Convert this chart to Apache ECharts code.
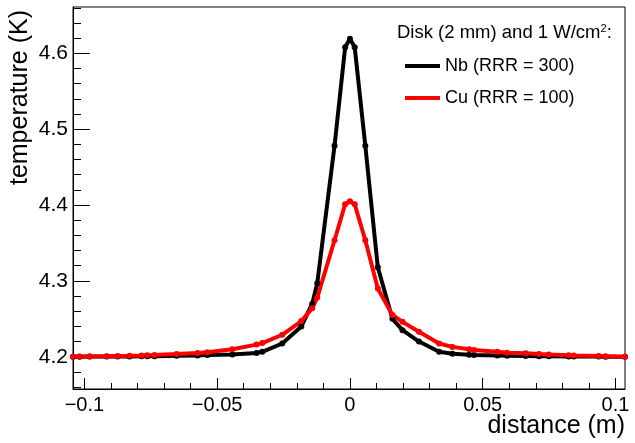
<!DOCTYPE html>
<html>
<head>
<meta charset="utf-8">
<script src="https://cdn.jsdelivr.net/npm/echarts@6/dist/echarts.min.js"></script>
<style>
  html, body { margin: 0; padding: 0; background: #fff; }
  #chart { width: 635px; height: 443px; }
</style>
</head>
<body>
<div id="chart"></div>
<script>
// distance along the disk (m), mesh nodes
var distance = [-0.1043, -0.1018, -0.0980, -0.0916, -0.0875, -0.0830, -0.0785, -0.0763, -0.0736,
  -0.0653, -0.0574, -0.0537, -0.0443, -0.0352, -0.0330, -0.0255, -0.0183, -0.0142, -0.0123,
  -0.0058, -0.0018, 0, 0.0018, 0.0058, 0.0105, 0.0160, 0.0198, 0.0260, 0.0336, 0.0386, 0.0449,
  0.0467, 0.0555, 0.0592, 0.0662, 0.0712, 0.0749, 0.0824, 0.0843, 0.0937, 0.0963, 0.1036];

// temperature (K)
var tempNb = [4.2000, 4.2001, 4.2002, 4.2003, 4.2004, 4.2005, 4.2006, 4.2007, 4.2008,
  4.2012, 4.2018, 4.2022, 4.2030, 4.2050, 4.2065, 4.2175, 4.2400, 4.2700, 4.2970,
  4.4780, 4.6080, 4.6190, 4.6080, 4.4780, 4.3180, 4.2500, 4.2350, 4.2200, 4.2066, 4.2040, 4.2025,
  4.2022, 4.2015, 4.2012, 4.2009, 4.2007, 4.2006, 4.2004, 4.2003, 4.2002, 4.2001, 4.2000];

var tempCu = [4.2000, 4.2002, 4.2004, 4.2007, 4.2010, 4.2013, 4.2017, 4.2020, 4.2023,
  4.2035, 4.2050, 4.2060, 4.2100, 4.2160, 4.2180, 4.2290, 4.2470, 4.2640, 4.2780,
  4.3535, 4.4010, 4.4050, 4.4010, 4.3535, 4.2900, 4.2550, 4.2460, 4.2330, 4.2175, 4.2130, 4.2100,
  4.2090, 4.2065, 4.2052, 4.2045, 4.2035, 4.2030, 4.2020, 4.2018, 4.2010, 4.2008, 4.2000];

var xTicks = [-0.1, -0.05, 0, 0.05, 0.1];
var yTicks = [4.2, 4.3, 4.4, 4.5, 4.6];
var xRange = [-0.1043, 0.1036];
var yRange = [4.1575, 4.661];

var xMinor = [];
for (var i = -10; i <= 10; i++) xMinor.push(i / 100);
var yMinor = [];
for (var j = 208; j <= 233; j++) yMinor.push(j / 50);

function pairs(xs, ys) {
  return xs.map(function (x, k) { return [x, ys[k]]; });
}

var font = 'Liberation Sans, Arial, sans-serif';
var myChart = echarts.init(document.getElementById('chart'));

var option = {
  animation: false,
  backgroundColor: '#fff',
  grid: {
    left: 73, top: 7, right: 10, bottom: 54,
    show: true, borderColor: '#000', borderWidth: 1
  },
  legend: {
    orient: 'vertical',
    left: 400, top: 52,
    icon: 'rect',
    itemWidth: 35, itemHeight: 4,
    itemGap: 14,
    textStyle: { fontFamily: font, fontSize: 18, color: '#000' },
    data: ['Nb (RRR = 300)', 'Cu (RRR = 100)']
  },
  graphic: [
    {
      type: 'text', left: 397, top: 23,
      style: {
        text: 'Disk (2 mm) and 1 W/cm{sup|2}:',
        font: '18.5px ' + font, fill: '#000',
        rich: { sup: { fontSize: 11, verticalAlign: 'top', padding: [0, 0, 9, 0], fontFamily: font } }
      }
    },
    {
      type: 'text', x: 33, y: 10, rotation: Math.PI / 2,
      style: { text: 'temperature (K)', font: '25px ' + font, fill: '#000', align: 'right', verticalAlign: 'bottom' }
    },
    {
      type: 'text', x: 625, y: 439,
      style: { text: 'distance (m)', font: '25px ' + font, fill: '#000', align: 'right', verticalAlign: 'bottom' }
    }
  ],
  xAxis: [
    {
      type: 'value', min: xRange[0], max: xRange[1], position: 'bottom',
      axisLine: { show: true, onZero: false, lineStyle: { color: '#000', width: 1 } },
      splitLine: { show: false },
      axisTick: { show: true, inside: true, length: 11, customValues: xTicks, lineStyle: { color: '#000' } },
      axisLabel: {
        show: true, customValues: xTicks, margin: 6,
        fontFamily: font, fontSize: 20, color: '#000',
        formatter: function (v) { return v < 0 ? '\u2212' + String(-v) : String(v); }
      }
    },
    {
      type: 'value', min: xRange[0], max: xRange[1], position: 'bottom',
      axisLine: { show: false, onZero: false },
      splitLine: { show: false },
      axisTick: { show: true, inside: true, length: 6, customValues: xMinor, lineStyle: { color: '#000' } },
      axisLabel: { show: false }
    }
  ],
  yAxis: [
    {
      type: 'value', min: yRange[0], max: yRange[1], position: 'left',
      axisLine: { show: true, onZero: false, lineStyle: { color: '#000', width: 1 } },
      splitLine: { show: false },
      axisTick: { show: true, inside: true, length: 17, customValues: yTicks, lineStyle: { color: '#000' } },
      axisLabel: {
        show: true, customValues: yTicks, margin: 5,
        fontFamily: font, fontSize: 21, color: '#000',
        formatter: function (v) { return v.toFixed(1); }
      }
    },
    {
      type: 'value', min: yRange[0], max: yRange[1], position: 'left',
      axisLine: { show: false, onZero: false },
      splitLine: { show: false },
      axisTick: { show: true, inside: true, length: 8, customValues: yMinor, lineStyle: { color: '#000' } },
      axisLabel: { show: false }
    }
  ],
  series: [
    {
      name: 'Nb (RRR = 300)', type: 'line',
      data: pairs(distance, tempNb),
      symbol: 'circle', symbolSize: 6, showSymbol: true,
      lineStyle: { color: '#000', width: 4 },
      itemStyle: { color: '#000' }
    },
    {
      name: 'Cu (RRR = 100)', type: 'line',
      data: pairs(distance, tempCu),
      symbol: 'circle', symbolSize: 6, showSymbol: true,
      lineStyle: { color: '#ff0000', width: 4 },
      itemStyle: { color: '#ff0000' }
    }
  ]
};

myChart.setOption(option);
</script>
</body>
</html>
